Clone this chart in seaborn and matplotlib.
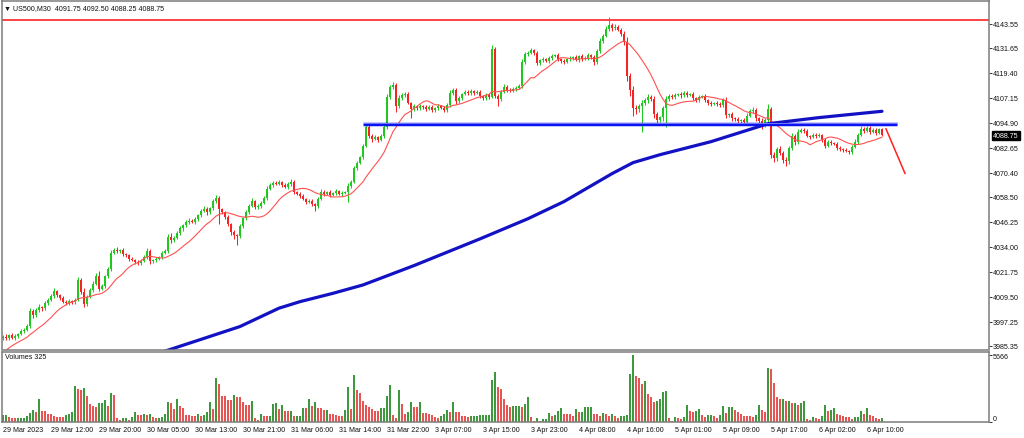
import numpy as np
import pandas as pd
import matplotlib
matplotlib.use("Agg")
import matplotlib.pyplot as plt
import matplotlib.transforms as mtransforms
import seaborn as sns

# ==============================
# DATA  (US500 M30, 29 Mar 2023 -> 6 Apr 2023)
# ==============================

first_open = 3989.5

closes = [
    3990.0, 3989.25, 3990.5, 3989.5, 3990.25, 3991.0, 3992.5, 3993.25, 3995.0, 4002.5,
    4000.5, 4003.0, 4004.5, 4003.75, 4006.5, 4008.0, 4010.0, 4012.25, 4010.5, 4008.75,
    4007.0, 4006.25, 4007.5, 4006.75, 4008.0, 4017.5, 4012.0, 4006.0, 4009.5, 4013.0,
    4016.0, 4019.5, 4013.5, 4015.0, 4019.5, 4023.0, 4031.0, 4032.5, 4031.75, 4032.25,
    4030.5, 4029.75, 4028.0, 4027.5, 4026.75, 4026.0, 4027.25, 4029.0, 4032.0, 4027.0,
    4027.5, 4028.25, 4029.0, 4031.0, 4032.0, 4039.0, 4037.5, 4038.5, 4041.0, 4043.0,
    4044.5, 4046.0, 4046.75, 4046.0, 4047.5, 4049.5, 4051.5, 4052.5, 4051.0, 4053.0,
    4056.5, 4058.0, 4052.5, 4051.0, 4048.5, 4045.0, 4041.5, 4040.0, 4039.5, 4044.0,
    4048.0, 4051.0, 4054.0, 4056.5, 4053.5, 4054.0, 4055.5, 4058.0, 4062.5, 4064.5,
    4065.5, 4065.0, 4065.75, 4064.5, 4063.5, 4064.75, 4066.0, 4061.0, 4060.0, 4059.0,
    4057.5, 4056.0, 4056.5, 4055.0, 4054.0, 4057.5, 4061.0, 4060.0, 4060.75, 4059.5,
    4060.5, 4061.25, 4059.75, 4060.5, 4061.0, 4064.0, 4066.0, 4072.5, 4075.0, 4078.0,
    4083.5, 4093.0, 4088.5, 4087.0, 4087.75, 4086.5, 4088.5, 4093.0, 4107.5, 4112.5,
    4113.5, 4103.0, 4107.0, 4108.5, 4109.0, 4104.5, 4101.5, 4103.0, 4102.0, 4103.25,
    4102.5, 4101.5, 4102.75, 4101.0, 4102.0, 4103.0, 4102.0, 4101.0, 4103.5, 4109.5,
    4111.0, 4105.5, 4107.0, 4109.0, 4110.0, 4109.25, 4110.5, 4109.5, 4110.0, 4108.0,
    4107.0, 4108.5, 4107.5, 4131.0, 4108.0, 4106.5, 4110.0, 4112.5, 4111.0, 4110.5,
    4111.5, 4112.0, 4113.0, 4124.5, 4128.5, 4129.0, 4130.5, 4129.0, 4124.0, 4125.5,
    4126.0, 4125.0, 4126.5, 4127.5, 4128.0, 4126.0, 4125.0, 4124.5, 4126.0, 4126.5,
    4127.0, 4125.5, 4127.5, 4126.0, 4126.75, 4128.0, 4127.0, 4124.5, 4130.0, 4135.0,
    4137.5, 4141.0, 4143.0, 4141.5, 4142.0, 4140.5, 4138.5, 4134.5, 4118.0, 4111.0,
    4102.0, 4101.5, 4103.0, 4104.5, 4106.0, 4107.5, 4106.5, 4099.0, 4096.0, 4097.5,
    4102.0, 4106.5, 4108.0, 4107.5, 4108.5, 4109.0, 4108.25, 4109.5, 4108.5, 4109.0,
    4107.0, 4106.0, 4107.5, 4108.0, 4106.0, 4104.5, 4104.0, 4104.75, 4104.0, 4103.5,
    4106.0, 4098.5, 4099.0, 4097.0, 4096.5, 4095.5, 4096.0, 4095.0, 4098.0, 4100.5,
    4101.0, 4097.0, 4095.5, 4094.5, 4096.0, 4101.5, 4079.0, 4077.5, 4082.0, 4080.0,
    4076.5, 4076.0, 4082.5, 4088.5, 4085.5, 4090.5, 4091.5, 4091.0, 4088.5, 4088.0,
    4089.0, 4088.5, 4088.75, 4086.5, 4083.5, 4085.5, 4085.0, 4084.5, 4082.5, 4082.0,
    4081.5, 4081.0, 4080.5, 4083.0, 4085.5, 4089.0, 4092.0, 4091.0, 4092.5, 4090.5,
    4091.5, 4090.0, 4091.75, 4088.75,
]

# wick length above / below the body, in points
wick_up = [
    0.75, 1.0, 0.5, 1.0, 0.75, 0.5, 1.0, 0.75, 1.0, 1.5,
    1.0, 0.75, 1.25, 0.5, 1.0, 0.75, 1.0, 1.5, 0.75, 0.5,
    1.0, 0.75, 1.0, 0.5, 1.0, 1.5, 1.0, 2.0, 0.75, 1.0,
    1.0, 1.5, 2.5, 1.0, 0.75, 1.0, 1.5, 1.0, 1.25, 0.75,
    1.0, 0.5, 0.75, 1.0, 0.5, 1.0, 0.75, 1.0, 1.5, 1.0,
    0.75, 1.0, 0.5, 1.0, 0.75, 1.5, 2.0, 1.0, 0.75, 1.0,
    0.5, 1.0, 1.25, 0.75, 1.0, 0.5, 1.0, 1.5, 1.0, 0.75,
    1.0, 1.5, 1.0, 0.75, 0.5, 1.0, 0.75, 1.0, 0.5, 1.0,
    0.75, 1.0, 1.25, 1.5, 0.5, 1.0, 0.75, 1.0, 1.25, 1.0,
    1.0, 0.75, 1.0, 0.5, 0.75, 1.0, 1.5, 1.0, 0.5, 0.75,
    1.0, 0.5, 0.75, 1.0, 0.5, 1.0, 1.25, 1.0, 0.75, 1.0,
    0.5, 1.0, 0.75, 1.0, 0.5, 1.5, 1.0, 1.25, 1.0, 0.75,
    1.0, 1.5, 1.0, 0.75, 1.0, 0.5, 1.0, 1.0, 1.5, 1.0,
    1.5, 1.0, 1.25, 1.0, 0.75, 1.0, 0.5, 1.0, 0.75, 1.0,
    0.5, 1.0, 0.75, 1.0, 0.5, 1.0, 0.75, 1.0, 1.0, 1.5,
    1.0, 0.75, 1.0, 0.5, 1.0, 0.75, 1.0, 0.5, 0.75, 1.0,
    0.5, 1.0, 0.75, 2.0, 1.0, 0.75, 1.0, 1.5, 1.0, 0.75,
    1.0, 0.75, 1.0, 1.5, 1.0, 1.25, 1.0, 0.75, 1.0, 0.5,
    1.0, 0.75, 1.0, 1.25, 0.5, 1.0, 0.75, 1.0, 0.5, 1.0,
    0.75, 1.0, 0.5, 1.0, 0.75, 1.0, 0.5, 1.0, 1.25, 1.5,
    1.0, 1.5, 4.0, 1.0, 1.5, 0.75, 1.0, 1.5, 2.5, 1.5,
    2.0, 1.5, 1.0, 1.5, 1.0, 1.5, 1.0, 1.5, 1.0, 0.75,
    1.0, 1.5, 1.0, 0.75, 1.0, 0.5, 1.0, 0.75, 1.0, 0.5,
    1.0, 0.75, 1.0, 0.5, 1.0, 0.75, 1.0, 0.5, 0.75, 1.0,
    1.0, 1.5, 0.75, 1.0, 0.5, 1.0, 0.75, 1.0, 1.5, 1.0,
    1.5, 1.0, 0.75, 1.5, 1.0, 2.5, 1.0, 1.5, 1.0, 1.5,
    1.0, 1.5, 1.0, 1.5, 1.0, 1.25, 1.0, 0.75, 1.0, 0.5,
    1.0, 0.75, 1.0, 0.5, 1.0, 0.75, 1.0, 0.5, 0.75, 1.0,
    0.5, 1.0, 0.75, 1.0, 1.25, 1.0, 1.5, 1.0, 0.75, 1.0,
    1.0, 0.75, 0.75, 0.75,
]

wick_dn = [
    1.0, 0.75, 1.0, 0.5, 1.0, 0.75, 0.5, 1.0, 0.75, 1.0,
    1.5, 1.0, 0.75, 1.0, 0.5, 1.0, 0.75, 1.0, 1.0, 0.75,
    0.5, 1.0, 0.75, 1.0, 1.0, 0.5, 1.0, 1.5, 1.0, 0.75,
    1.0, 0.75, 1.0, 0.5, 1.0, 0.75, 1.0, 0.5, 1.0, 0.75,
    1.0, 0.75, 1.0, 0.5, 1.0, 0.75, 1.0, 0.5, 1.0, 1.5,
    0.75, 1.0, 0.5, 1.0, 0.75, 1.0, 1.5, 1.0, 0.75, 1.0,
    1.0, 0.75, 1.0, 0.5, 1.0, 0.75, 1.0, 0.5, 1.25, 1.0,
    0.75, 1.0, 7.5, 1.0, 0.75, 1.0, 1.5, 2.0, 4.5, 1.0,
    1.0, 0.75, 1.0, 0.5, 1.0, 0.75, 1.0, 0.5, 1.0, 0.75,
    1.0, 0.5, 0.75, 1.0, 0.5, 1.0, 0.75, 1.0, 0.5, 1.0,
    0.75, 1.0, 0.5, 1.0, 2.5, 1.0, 0.75, 1.0, 0.5, 1.0,
    0.75, 1.0, 0.5, 1.0, 0.75, 5.0, 1.0, 0.75, 1.0, 0.5,
    1.0, 0.75, 1.0, 1.5, 0.75, 1.0, 0.5, 1.0, 1.0, 0.75,
    1.0, 3.0, 1.0, 0.75, 1.0, 0.5, 4.5, 1.0, 0.75, 1.0,
    0.75, 1.0, 0.5, 1.0, 0.75, 1.0, 0.5, 1.0, 0.75, 1.0,
    1.0, 1.5, 0.75, 1.0, 0.5, 1.0, 0.75, 1.0, 0.5, 1.0,
    1.0, 0.75, 1.0, 0.5, 1.0, 3.5, 1.0, 0.75, 1.0, 0.5,
    0.75, 1.0, 0.5, 1.0, 0.75, 1.0, 0.5, 1.0, 1.0, 0.75,
    1.0, 0.5, 0.75, 1.0, 0.5, 1.0, 0.75, 1.0, 0.5, 0.75,
    1.0, 0.5, 0.75, 1.0, 0.5, 1.0, 0.75, 1.5, 1.0, 0.75,
    1.0, 0.75, 1.0, 1.5, 1.0, 0.75, 1.0, 1.5, 2.5, 3.0,
    4.0, 2.5, 1.5, 12.5, 1.0, 1.5, 1.0, 2.0, 1.5, 1.0,
    2.0, 9.0, 1.0, 0.75, 1.0, 0.5, 1.0, 0.75, 1.0, 0.5,
    1.0, 0.75, 1.0, 0.5, 1.0, 0.75, 1.0, 0.5, 1.0, 0.75,
    1.0, 1.5, 1.0, 1.5, 1.0, 1.5, 1.0, 0.75, 1.0, 0.5,
    1.0, 1.5, 1.0, 2.5, 1.5, 1.0, 1.5, 2.0, 1.5, 1.0,
    1.5, 2.25, 1.5, 1.0, 1.5, 1.0, 0.75, 1.0, 0.5, 1.0,
    0.75, 1.0, 0.5, 1.0, 1.0, 0.75, 1.0, 0.5, 1.0, 0.75,
    1.0, 0.5, 0.75, 1.0, 0.5, 1.0, 0.75, 1.0, 0.5, 1.0,
    0.75, 1.0, 0.5, 0.5,
]

volumes = [
    570, 600, 370, 290, 280, 290, 300, 310, 460, 740,
    1030, 800, 1950, 940, 890, 660, 640, 460, 440, 370,
    360, 570, 660, 860, 3090, 2800, 2700, 2860, 2230, 1520,
    1370, 1230, 1600, 1610, 1890, 1370, 2460, 2290, 290, 170,
    290, 300, 170, 370, 860, 570, 560, 660, 570, 630,
    430, 290, 340, 400, 660, 1660, 1600, 1090, 1950, 1370,
    1140, 570, 560, 460, 450, 630, 515, 570, 800, 1720,
    1090, 3720, 3230, 2230, 2200, 1890, 1880, 2290, 2090, 2080,
    1660, 1430, 1420, 1770, 290, 110, 630, 515, 510, 520,
    1520, 1570, 1090, 1430, 920, 890, 900, 515, 520, 530,
    1140, 1130, 1940, 1370, 1660, 1140, 1130, 1000, 1010, 630,
    620, 610, 515, 510, 1030, 3000, 1090, 4000, 2720, 2430,
    1800, 1430, 1290, 1090, 910, 900, 1170, 1180, 2230, 3150,
    600, 290, 2750, 1520, 630, 860, 1660, 1230, 1220, 1660,
    740, 730, 630, 570, 430, 340, 515, 630, 1030, 860,
    1720, 860, 800, 515, 460, 370, 460, 515, 520, 570,
    580, 590, 600, 3600, 4290, 2950, 2780, 1930, 1420, 1300,
    1360, 1370, 1380, 1220, 1500, 2080, 370, 85, 310, 100,
    230, 250, 710, 510, 570, 910, 1160, 650, 640, 630,
    510, 1050, 850, 860, 1220, 1230, 1240, 650, 640, 510,
    740, 650, 450, 620, 510, 280, 450, 510, 570, 4050,
    5666, 3870, 3760, 3220, 3480, 2350, 2130, 1700, 1790, 1980,
    2580, 2610, 340, 85, 400, 340, 230, 430, 1420, 880,
    790, 880, 1080, 590, 400, 590, 600, 450, 340, 570,
    1360, 740, 1220, 1230, 990, 790, 650, 510, 500, 450,
    400, 570, 1420, 1020, 790, 4620, 4530, 3290, 2150, 1930,
    1940, 1780, 1810, 1590, 1640, 1420, 1590, 1790, 230, 110,
    400, 280, 230, 450, 1420, 880, 1020, 1160, 650, 570,
    510, 400, 390, 230, 400, 410, 880, 650, 1130, 590,
    510, 280, 270, 325,
]

# closes before the visible window, only needed to start the moving average
prior_closes = [3970.5, 3973.0, 3975.25, 3977.5, 3979.0, 3981.5, 3983.0,
                3982.25, 3984.5, 3985.75, 3986.0, 3988.5, 3989.0]
ma_period = 14

# slow moving average (blue)
ma_slow_bars = [50, 55, 66, 79, 92, 99, 110, 120, 137, 159, 175, 187, 203,
                210, 219, 236, 255, 272, 293]
ma_slow_vals = [3981.0, 3983.3, 3988.6, 3994.9, 4003.9, 4007.1, 4011.2, 4015.3,
                4024.8, 4037.9, 4047.8, 4056.2, 4069.9, 4075.3, 4079.2, 4085.6,
                4094.4, 4097.4, 4100.5]

resistance_level = 4145.5
support_level = 4094.4
support_bars = [120, 298]
projection_bars = [294.3, 300.7]
projection_vals = [4092.0, 4069.9]

price_ticks = [4143.55, 4131.65, 4119.40, 4107.15, 4094.90, 4082.65, 4070.40,
               4058.50, 4046.25, 4034.00, 4021.75, 4009.50, 3997.25, 3985.35]

time_labels = ["29 Mar 2023", "29 Mar 12:00", "29 Mar 20:00", "30 Mar 05:00",
               "30 Mar 13:00", "30 Mar 21:00", "31 Mar 06:00", "31 Mar 14:00",
               "31 Mar 22:00", "3 Apr 07:00", "3 Apr 15:00", "3 Apr 23:00",
               "4 Apr 08:00", "4 Apr 16:00", "5 Apr 01:00", "5 Apr 09:00",
               "5 Apr 17:00", "6 Apr 02:00", "6 Apr 10:00"]
time_label_bars = [0, 16, 32, 48, 64, 80, 96, 112, 128, 144, 160, 176, 192,
                   208, 224, 240, 256, 272, 288]

vol_max = 5666

# ==============================
# FRAME
# ==============================

n = len(closes)
df = pd.DataFrame({'bar': np.arange(n), 'close': closes, 'volume': volumes})
df['open'] = [first_open] + closes[:-1]
df['high'] = np.maximum(df['open'], df['close']) + np.array(wick_up)
df['low'] = np.minimum(df['open'], df['close']) - np.array(wick_dn)
df['up'] = df['close'] >= df['open']
df['vol_dir'] = np.where(df['volume'].diff().fillna(1) > 0, 'up', 'down')

full = pd.Series(prior_closes + closes)
df['ma'] = full.rolling(ma_period).mean().iloc[len(prior_closes):].values

# ------------------------------
# STYLE
# ------------------------------

sns.set_style('white')
plt.rcParams['font.family'] = ['Liberation Sans', 'DejaVu Sans']

BULL = '#1ec81e'
BEAR = '#f52323'
VOL_UP = '#2fa82f'
VOL_DN = '#ff3c3c'
FRAME = '#7c7c7c'
FS = 5.1

W, H = 1024, 439
fig = plt.figure(figsize=(W / 100, H / 100), dpi=100)


def box(x0, y0, x1, y1):
    return [x0 / W, 1 - y1 / H, (x1 - x0) / W, (y1 - y0) / H]


ax = fig.add_axes(box(2, 1.5, 989, 350.5))
axv = fig.add_axes(box(2, 352.5, 989, 422.7), sharex=ax)

x_lim = (-0.33, 328.67)

# ------------------------------
# CANDLES
# ------------------------------

candle_colors = np.where(df['up'], BULL, BEAR)
ax.vlines(df['bar'], df['low'], df['high'], colors=candle_colors, lw=0.75)
body = np.maximum((df['close'] - df['open']).abs(), 0.3)
ax.bar(df['bar'], body, bottom=np.minimum(df['open'], df['close']),
       width=0.62, color=candle_colors, linewidth=0)

# moving averages
sns.lineplot(x=df['bar'], y=df['ma'], color='#ff5050', lw=0.8, ax=ax)
sns.lineplot(x=ma_slow_bars, y=ma_slow_vals, color='#1212c4', lw=2.3, ax=ax)

# horizontal levels
ax.axhline(resistance_level, color='#ff3333', lw=1.3)
ax.plot(support_bars, [support_level] * 2, color='#0a14f0', lw=2.5,
        solid_capstyle='butt')
ax.plot(support_bars, [support_level + 0.55] * 2, color='white', lw=0.6,
        dashes=(1.2, 1.2))

# projection
ax.plot(projection_bars, projection_vals, color='#ff2020', lw=1.1)

ax.set_xlim(*x_lim)
ax.set_ylim(3983.63, 4154.85)
ax.set_xlabel('')
ax.set_ylabel('')

ax.yaxis.tick_right()
ax.set_yticks(price_ticks)
ax.set_yticklabels([f"{p:.2f}" for p in price_ticks])
ax.tick_params(axis='y', length=2.2, width=0.7, color='#333333',
               labelsize=FS, pad=0.8, labelcolor='#111111')
ax.tick_params(axis='x', bottom=False, labelbottom=False)

# current price marker
trans = mtransforms.blended_transform_factory(ax.transAxes, ax.transData)
ax.text(1.0042, closes[-1], f"{closes[-1]:.2f}", transform=trans,
        ha='left', va='center', fontsize=FS, color='white',
        bbox=dict(boxstyle='square,pad=0.15', fc='black', ec='black'))

# ------------------------------
# VOLUMES
# ------------------------------

sns.barplot(data=df, x='bar', y='volume', hue='vol_dir',
            palette={'up': VOL_UP, 'down': VOL_DN}, dodge=False,
            native_scale=True, width=0.45, errorbar=None, legend=False,
            linewidth=0, ax=axv)

axv.set_xlim(*x_lim)
axv.set_ylim(0, 6006)
axv.set_xlabel('')
axv.set_ylabel('')
axv.yaxis.tick_right()
axv.set_yticks([0, vol_max])
axv.set_yticklabels(['0', str(vol_max)])
axv.tick_params(axis='y', length=2.2, width=0.7, color='#333333',
                labelsize=FS, pad=0.8, labelcolor='#111111')
axv.get_yticklabels()[0].set_va('bottom')

axv.set_xticks(time_label_bars)
axv.set_xticklabels(time_labels, ha='left')
axv.tick_params(axis='x', length=2.2, width=0.7, color='#333333',
                labelsize=FS, pad=0.6, labelcolor='#111111')

for a in (ax, axv):
    for s in a.spines.values():
        s.set_color(FRAME)
        s.set_linewidth(1.1)
    a.grid(False)

# ------------------------------
# LABELS
# ------------------------------

fig.text(4 / W, 1 - 8.3 / H, "▼ US500,M30  4091.75 4092.50 4088.25 4088.75",
         fontsize=FS, va='center', ha='left', color='#111111')
fig.text(5 / W, 1 - 358 / H, f"Volumes {volumes[-1]}",
         fontsize=FS, va='center', ha='left', color='#111111')

fig.savefig('out.png', dpi=100)
